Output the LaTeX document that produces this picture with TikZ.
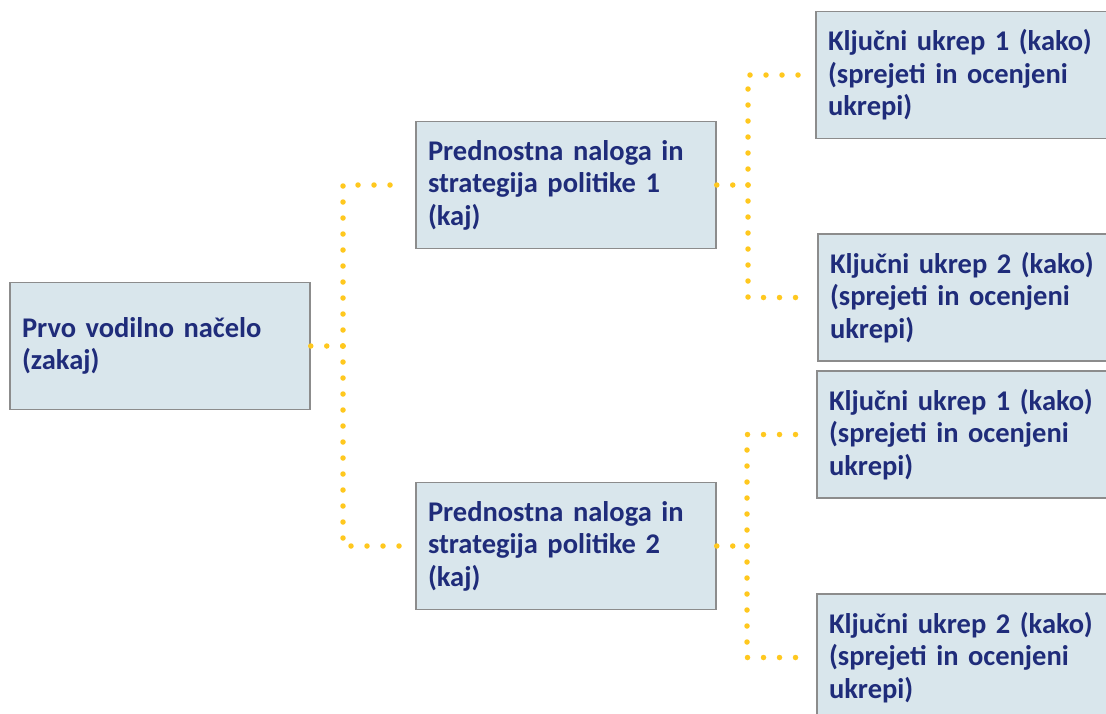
\documentclass[tikz,border=0pt]{standalone}
\usepackage{fontspec}
\setmainfont{Carlito}
\definecolor{boxfill}{HTML}{D9E6EC}
\definecolor{boxline}{HTML}{8C8C8C}
\definecolor{navy}{HTML}{1F2C7A}
\definecolor{gold}{HTML}{FFC81E}
\tikzset{
  box/.style={draw=boxline, line width=1.5pt, fill=boxfill, text=navy,
    font=\fontsize{28.5}{32.5}\selectfont\bfseries, align=left,
    text width=276pt, inner xsep=12pt, inner ysep=0pt,
    minimum width=300pt, minimum height=127pt},
  conn/.style={draw=gold, line width=5.5pt, line cap=round,
    dash pattern=on 0pt off 16pt, shorten >=12pt}
}
\begin{document}
\begin{tikzpicture}[x=1pt,y=-1pt]
      \clip (0,0) rectangle (1106,713);
      \node[box] (Pr)  at (160,346)   {Prvo vodilno načelo\\(zakaj)};
      \node[box] (Pn1) at (566,185)   {Prednostna naloga in\\strategija politike 1\\(kaj)};
      \node[box] (Pn2) at (566,546)   {Prednostna naloga in\\strategija politike 2\\(kaj)};
      \node[box] (Ku1) at (966,75)    {Ključni ukrep 1 (kako)\\(sprejeti in ocenjeni\\ukrepi)};
      \node[box] (Ku2) at (968,297.5) {Ključni ukrep 2 (kako)\\(sprejeti in ocenjeni\\ukrepi)};
      \node[box] (Ku3) at (967,434.5) {Ključni ukrep 1 (kako)\\(sprejeti in ocenjeni\\ukrepi)};
      \node[box] (Ku4) at (967,657.5) {Ključni ukrep 2 (kako)\\(sprejeti in ocenjeni\\ukrepi)};
      \coordinate (J0) at (343,346);
      \coordinate (J1) at (748,185);
      \coordinate (J2) at (747,546);
      \draw[conn, shorten >=0pt] (Pr.east)  -- (J0);
      \draw[conn] (J0) |- (Pn1.west);
      \draw[conn] (J0) |- (Pn2.west);
      \draw[conn, shorten >=0pt] (Pn1.east) -- (J1);
      \draw[conn] (J1) |- (Ku1.west);
      \draw[conn] (J1) |- (Ku2.west);
      \draw[conn, shorten >=0pt] (Pn2.east) -- (J2);
      \draw[conn] (J2) |- (Ku3.west);
      \draw[conn] (J2) |- (Ku4.west);
    \end{tikzpicture}
\end{document}
